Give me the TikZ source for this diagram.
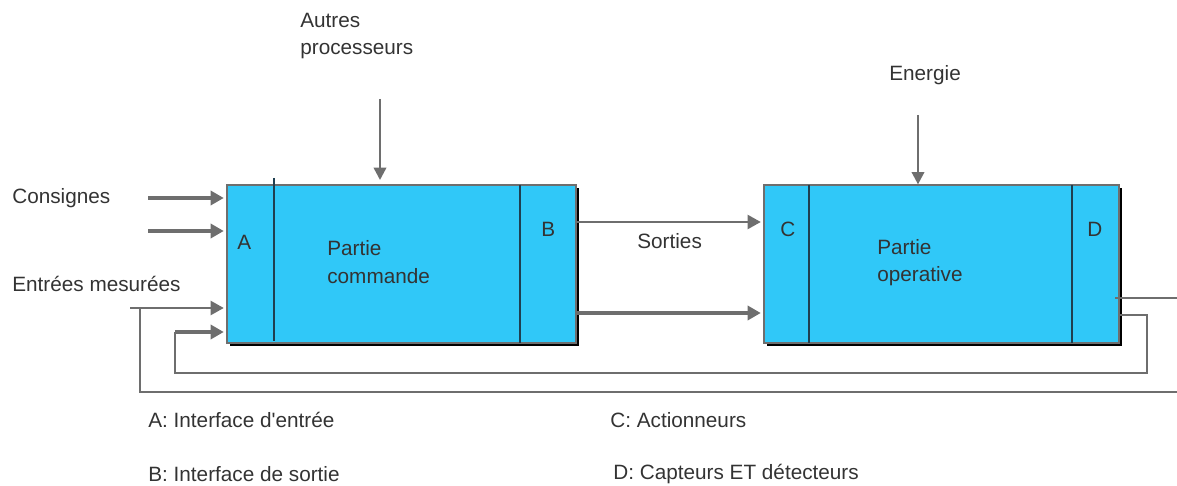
\documentclass[tikz,border=0pt]{standalone}
\usepackage{fontspec}
\setmainfont{Liberation Sans}
\usetikzlibrary{arrows.meta,shadows}
\definecolor{boxfill}{HTML}{30C8F8}
\definecolor{linegray}{HTML}{6E6E6E}
\definecolor{txt}{HTML}{333333}
\definecolor{divc}{HTML}{1F3F50}
\tikzset{
  lbl/.style={font=\fontsize{11.8pt}{15.5pt}\selectfont, text=txt, inner sep=0pt, anchor=west, align=left},
  blk/.style={draw=linegray, line width=0.7pt, fill=boxfill, inner sep=0pt,
    drop shadow={fill=black, shadow xshift=0.06cm, shadow yshift=-0.06cm, opacity=1}},
  arr/.style={draw=linegray, line width=2pt, shorten >=1.5pt, -{Triangle[length=7.5pt,width=8pt]}},
  varr/.style={draw=linegray, line width=1.4pt, -{Triangle[length=7pt,width=7pt]}},
  fb/.style={draw=linegray, line width=1.1pt},
  divl/.style={draw=divc, line width=0.8pt}
}
\begin{document}
\begin{tikzpicture}[x=0.02cm,y=-0.02cm]
\useasboundingbox (0,0) rectangle (1177,486);
% boxes
\node[blk, minimum width=6.98cm, minimum height=3.16cm] (b1) at (401.5,264) {};
\node[blk, minimum width=7.1cm, minimum height=3.16cm] (b2) at (941.5,264) {};
% dividers
\draw[divl] (274,178) -- (274,341);
\draw[divl] (520,185) -- (520,343);
\draw[divl] (809,185) -- (809,343);
\draw[divl] (1072,185) -- (1072,343);
% labels inside
\node[lbl] (la) at (237,242) {A};
\node[lbl] (lb) at (541,229) {B};
\node[lbl] (lc) at (780,229) {C};
\node[lbl] (ld) at (1087,229) {D};
\node[lbl] (pc) at (327,262) {Partie\\commande};
\node[lbl] (po) at (877,263) {Partie\\operative};
% outside labels
\node[lbl] (ap) at (300,36) {Autres\\processeurs};
\node[lbl] (en) at (889,75) {Energie};
\node[lbl] (cons) at (12,198) {Consignes};
\node[lbl] (em) at (12,284) {Entrées mesurées};
\node[lbl] (so) at (637,241) {Sorties};
\node[lbl] (ka) at (148,420) {A: Interface d\textquotesingle entrée};
\node[lbl] (kb) at (148,474) {B: Interface de sortie};
\node[lbl] (kc) at (610,420) {C: Actionneurs};
\node[lbl] (kd) at (613,474) {D: Capteurs ET détecteurs};
% top arrows
\coordinate (apt) at (380,99);
\coordinate (ent) at (918,115);
\draw[varr] (apt) -- (380,180);
\draw[varr] (ent) -- (ent |- b2.north);
% input arrows
\coordinate (c1) at (148,198);
\coordinate (c2) at (148,231);
\coordinate (m1) at (130,308);
\draw[arr] (c1) -- (c1 -| b1.west);
\draw[arr] (c2) -- (c2 -| b1.west);
\draw[fb, line width=1.4pt, -{Triangle[length=7.5pt,width=8pt]}, shorten >=1.5pt] (m1) -- (m1 -| b1.west);
% sorties
\draw[arr, line width=1.3pt] (b1.east |- 0,222) -- (b2.west |- 0,222);
\draw[arr] (b1.east |- 0,313) -- (b2.west |- 0,313);
% feedback from D
\coordinate (fbend) at (175,332);
\draw[fb] (1115,298) -- (1177,298);
\draw[fb] (b2.east |- 0,315) -- (1147,315) -- (1147,373) -- (175,373) -- (fbend);
\draw[arr] (fbend) -- (fbend -| b1.west);
\draw[fb] (1177,392) -- (140,392) -- (140,308);
\end{tikzpicture}
\end{document}
